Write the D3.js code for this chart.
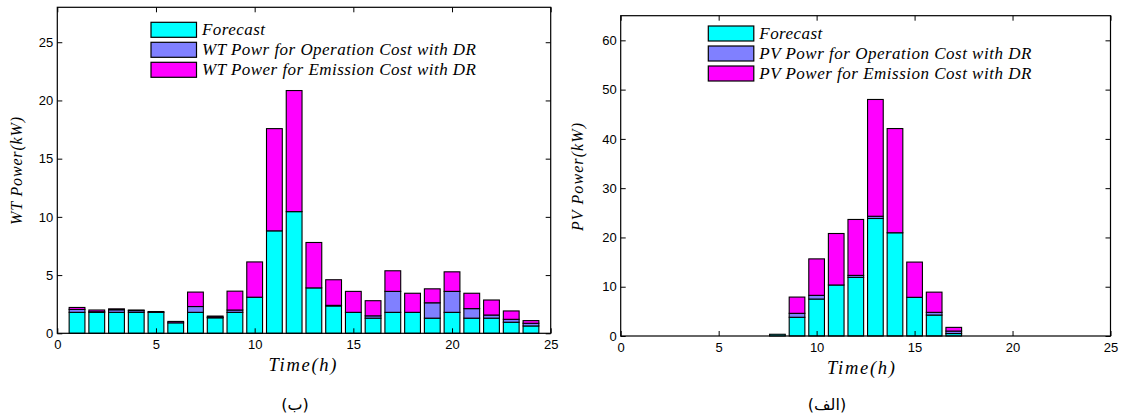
<!DOCTYPE html>
<html>
<head>
<meta charset="utf-8">
<script src="https://cdn.jsdelivr.net/npm/d3@7/dist/d3.min.js"></script>
<style>
  html, body { margin: 0; padding: 0; background: #fff; }
  svg { display: block; }
</style>
</head>
<body>
<svg id="chart" width="1122" height="413"></svg>
<script>
// ---------- data ----------
const hours = [1,2,3,4,5,6,7,8,9,10,11,12,13,14,15,16,17,18,19,20,21,22,23,24];

// WT (left, "(ب)") – stacked segment heights
const wtForecast  = [1.8,1.8,1.8,1.8,1.8,0.9,1.8,1.33,1.8,3.1,8.8,10.45,3.9,2.35,1.8,1.3,1.8,1.8,1.3,1.8,1.3,1.3,0.95,0.63];
const wtOperation = [0.25,0.05,0.22,0.15,0,0,0.5,0.05,0.2,0,0,0,0,0.05,0,0.2,1.8,0,1.32,1.8,0.82,0.27,0.25,0.23];
const wtEmission  = [0.17,0.15,0.08,0.05,0.07,0.12,1.24,0.1,1.62,3.03,8.78,10.4,3.9,2.2,1.8,1.3,1.77,1.64,1.2,1.68,1.32,1.29,0.72,0.23];

// PV (right, "(الف)") – stacked segment heights
const pvForecast  = [0,0,0,0,0,0,0,0.35,3.8,7.5,10.35,11.9,23.85,20.95,7.85,4.25,0.5,0,0,0,0,0,0,0];
const pvOperation = [0,0,0,0,0,0,0,0,0.8,0.75,0,0.4,0.45,0,0,0.55,0.5,0,0,0,0,0,0,0];
const pvEmission  = [0,0,0,0,0,0,0,0,3.3,7.4,10.45,11.35,23.7,21.15,7.15,4.1,0.75,0,0,0,0,0,0,0];

const xTicks   = [0,5,10,15,20,25];
const wtYTicks = [0,5,10,15,20,25];
const pvYTicks = [0,10,20,30,40,50,60];

const wtLegend = ["Forecast","WT Powr for Operation Cost with DR","WT Power for Emission Cost with DR"];
const pvLegend = ["Forecast","PV Powr for Operation Cost with DR","PV Power for Emission Cost with DR"];
const seriesColors = ["#00FFFF","#8080FF","#FF00FF"];

// ---------- drawing ----------
const svg = d3.select("#chart");
svg.append("rect").attr("width",1122).attr("height",413).attr("fill","#fff");

function drawChart(cfg) {
  const g = svg.append("g");
  const x = d3.scaleLinear().domain([0,25]).range([cfg.x0, cfg.x1]);
  const y = d3.scaleLinear().domain([0, cfg.yMax]).range([cfg.y1, cfg.y0]);
  const bw = (x(0.8) - x(0));

  // stacked bars
  const series = [cfg.f, cfg.o, cfg.e];
  hours.forEach((h, i) => {
    let base = 0;
    series.forEach((s, k) => {
      const top = base + s[i];
      g.append("rect")
        .attr("x", x(h) - bw/2)
        .attr("width", bw)
        .attr("y", y(top))
        .attr("height", Math.max(0, y(base) - y(top)))
        .attr("fill", seriesColors[k])
        .attr("stroke", "#000")
        .attr("stroke-width", 1.1);
      base = top;
    });
  });

  const tickFont = "'Liberation Sans', Arial, sans-serif";
  const ax = g.append("g").attr("transform", `translate(0,${cfg.y1})`)
    .call(d3.axisBottom(x).tickValues(xTicks).tickSizeInner(-5).tickSizeOuter(0).tickPadding(6.5));
  const ay = g.append("g").attr("transform", `translate(${cfg.x0},0)`)
    .call(d3.axisLeft(y).tickValues(cfg.yTicks).tickSizeInner(-5).tickSizeOuter(0).tickPadding(4));
  const at = g.append("g").attr("transform", `translate(0,${cfg.y0})`)
    .call(d3.axisTop(x).tickValues(xTicks).tickSizeInner(-5).tickSizeOuter(0).tickFormat(""));
  const ar = g.append("g").attr("transform", `translate(${cfg.x1},0)`)
    .call(d3.axisRight(y).tickValues(cfg.yTicks).tickSizeInner(-5).tickSizeOuter(0).tickFormat(""));
  [ax, ay, at, ar].forEach(a => {
    a.select(".domain").remove();
    a.selectAll("line").attr("stroke", "#000").attr("stroke-width", 1);
    a.selectAll("text").attr("fill", "#000").style("font-family", tickFont).style("font-size", "13px");
  });
  g.append("rect")
    .attr("x", cfg.x0).attr("y", cfg.y0)
    .attr("width", cfg.x1 - cfg.x0).attr("height", cfg.y1 - cfg.y0)
    .attr("fill", "none").attr("stroke", "#000").attr("stroke-width", 1.2);

  // legend
  const serif = "'Liberation Serif', 'Times New Roman', serif";
  cfg.legend.forEach((lab, k) => {
    const ly = cfg.legY + k * 20;
    g.append("rect")
      .attr("x", cfg.legX).attr("y", ly)
      .attr("width", 45.5).attr("height", 15)
      .attr("fill", seriesColors[k]).attr("stroke", "#000").attr("stroke-width", 1.2);
    g.append("text")
      .attr("x", cfg.legX + 51).attr("y", ly + 12.5)
      .style("font-family", serif).style("font-style", "italic").style("font-size", "17px")
      .attr("fill", "#000")
      .attr("textLength", k === 0 ? 63 : cfg.legW).attr("lengthAdjust", "spacing")
      .text(lab);
  });

  // axis labels
  g.append("text")
    .attr("x", cfg.xlabX).attr("y", cfg.y1 + 37.5)
    .attr("text-anchor", "middle")
    .style("font-family", serif).style("font-style", "italic").style("font-size", "18.5px")
    .attr("textLength", 68).attr("lengthAdjust", "spacing")
    .text("Time(h)");
  g.append("text")
    .attr("transform", `translate(${cfg.ylabX},${cfg.ylabY}) rotate(-90)`)
    .attr("text-anchor", "middle")
    .style("font-family", serif).style("font-style", "italic").style("font-size", "16px")
    .attr("textLength", 108).attr("lengthAdjust", "spacing")
    .text(cfg.ylabel);

  // caption
  g.append("text")
    .attr("x", cfg.capX).attr("y", 410)
    .attr("text-anchor", "middle")
    .style("font-family", "'DejaVu Sans', sans-serif").style("font-size", "16px")
    .text(cfg.caption);
}

drawChart({
  x0: 57.3, x1: 550.7, y0: 7.3, y1: 333.3, yMax: 28, yTicks: wtYTicks,
  f: wtForecast, o: wtOperation, e: wtEmission,
  legend: wtLegend, legX: 151, legY: 22.3, legW: 274,
  ylabel: "WT Power(kW)", ylabX: 22, ylabY: 171, xlabX: 302.5,
  caption: "(ب)", capX: 295
});
drawChart({
  x0: 620.7, x1: 1110.5, y0: 15.7, y1: 336, yMax: 65, yTicks: pvYTicks,
  f: pvForecast, o: pvOperation, e: pvEmission,
  legend: pvLegend, legX: 708.3, legY: 26, legW: 272,
  ylabel: "PV Power(kW)", ylabX: 583, ylabY: 177, xlabX: 861,
  caption: "(الف)", capX: 827
});
</script>
</body>
</html>
